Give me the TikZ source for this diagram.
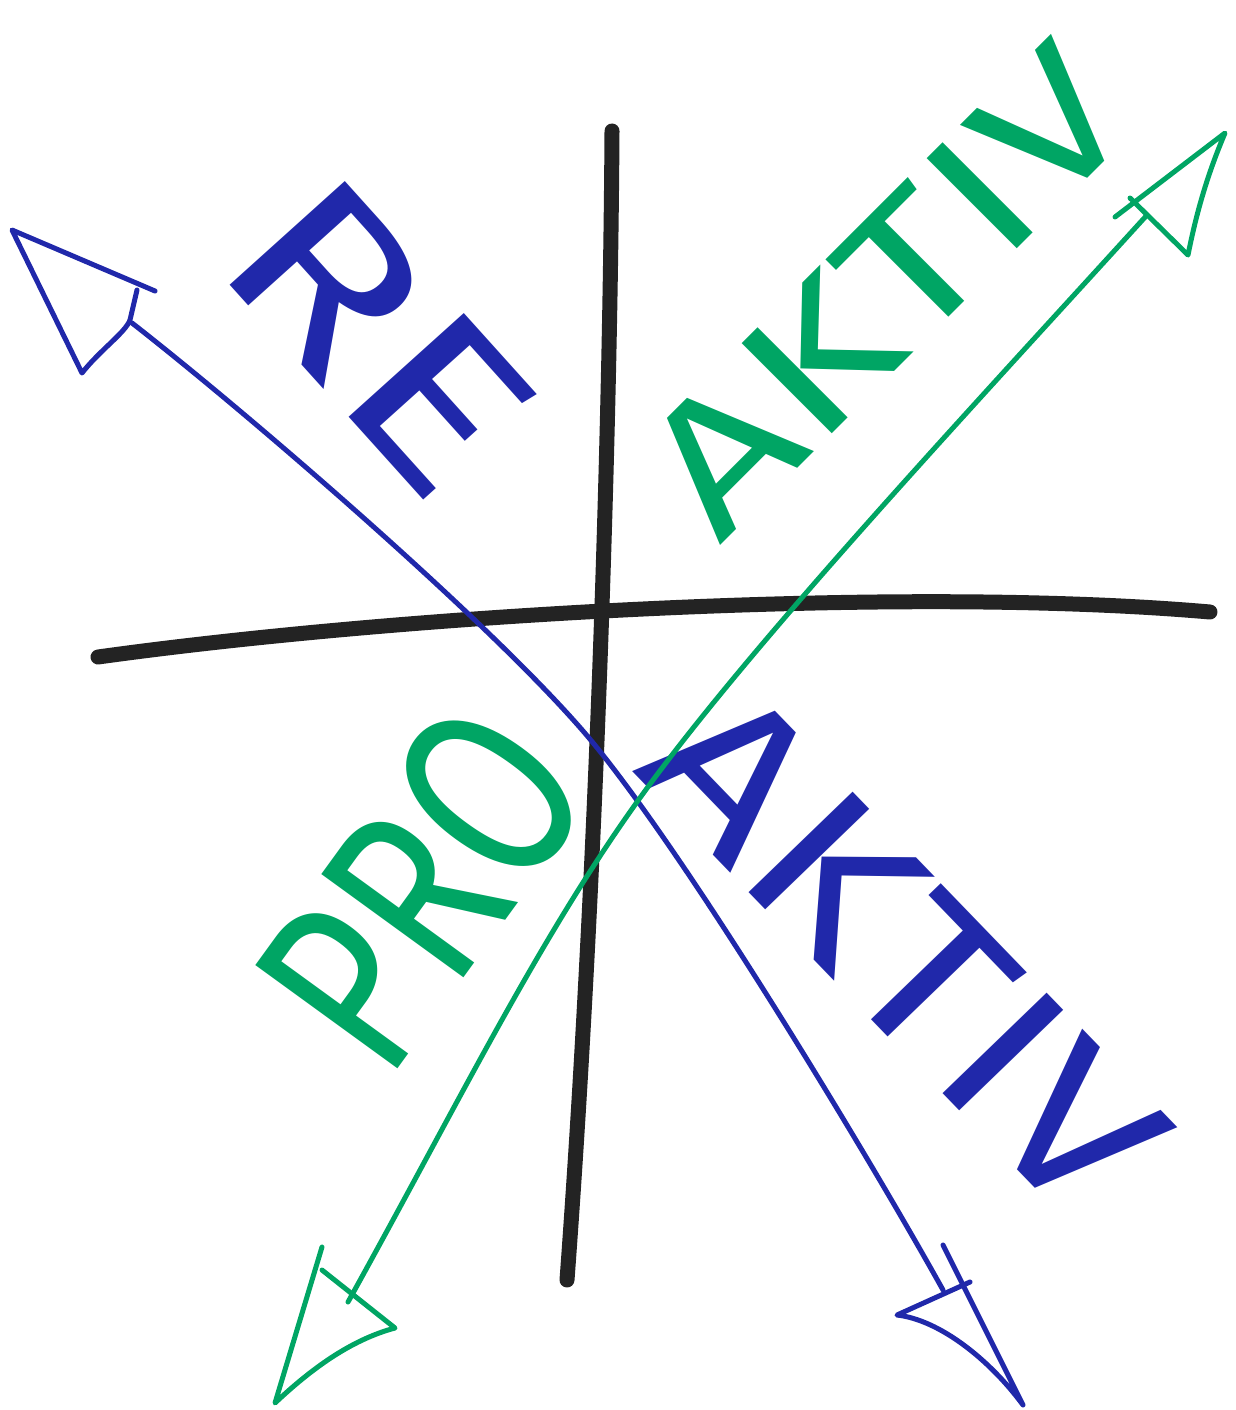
\documentclass[tikz,border=0pt]{standalone}
\usepackage{fontspec}
\setsansfont{Fira Sans}
\definecolor{markerblue}{RGB}{32,40,170}
\definecolor{markergreen}{RGB}{0,165,100}
\definecolor{markerblack}{RGB}{35,35,35}
\begin{document}
\begin{tikzpicture}[
  x=1pt, y=-1pt,
  axis line/.style={line width=15pt, markerblack, line cap=round},
  blue arrow/.style={line width=5pt, markerblue, line cap=round, line join=round},
  green arrow/.style={line width=5pt, markergreen, line cap=round, line join=round},
  word/.style={inner sep=0pt, transform shape,
    font=\sffamily\fontsize{#1}{#1}\selectfont}
]
  % page frame (pixel coordinates, y downwards)
  \useasboundingbox (0,0) rectangle (1236,1410);

  % The two hand-drawn axes
  \draw[axis line] (612,131) .. controls (610,450) and (595,900) .. (567,1280);
  \draw[axis line] (98,657) .. controls (400,615) and (900,585) .. (1210,612);

  % Words along the diagonals
  \node[word=225, rotate=-48, xscale=1.3, text=markerblue] (re) at (380,336) {RE};
  \node[word=185, rotate=45, xscale=1.28, text=markergreen] (aktivtop) at (886,290) {AKTIV};
  \node[word=255, rotate=54, xscale=0.76, text=markergreen] (pro) at (422,886) {PRO};
  \node[word=210, rotate=-46, xscale=1.2, text=markerblue] (aktivbottom) at (905,950) {AKTIV};

  % Blue diagonal: reaktiv <-> aktiv
  \coordinate (blue start) at (132,323);
  \coordinate (blue end) at (943,1290);
  \draw[blue arrow] (blue start)
    .. controls (250,415) and (504,634) .. (594,744)
    .. controls (694,866) and (873,1164) .. (blue end);
  % open arrow heads, drawn by hand
  \draw[blue arrow] (155,291) -- (12,230) -- (82,373)
    .. controls (100,350) and (125,333) .. (130,320) -- (137,290);
  \draw[blue arrow] (943,1245) -- (1023,1405)
    .. controls (990,1360) and (940,1320) .. (897,1315) -- (970,1282);

  % Green diagonal: pro <-> aktiv
  \coordinate (green start) at (348,1302);
  \coordinate (green end) at (1147,215);
  \draw[green arrow] (green start)
    .. controls (460,1100) and (537,942) .. (637,802)
    .. controls (747,648) and (967,413) .. (green end);
  \draw[green arrow] (1115,217) -- (1225,133)
    .. controls (1205,180) and (1195,220) .. (1188,255) -- (1130,198);
  \draw[green arrow] (322,1247) -- (275,1403)
    .. controls (310,1370) and (350,1340) .. (395,1328) -- (322,1270);

\end{tikzpicture}
\end{document}
